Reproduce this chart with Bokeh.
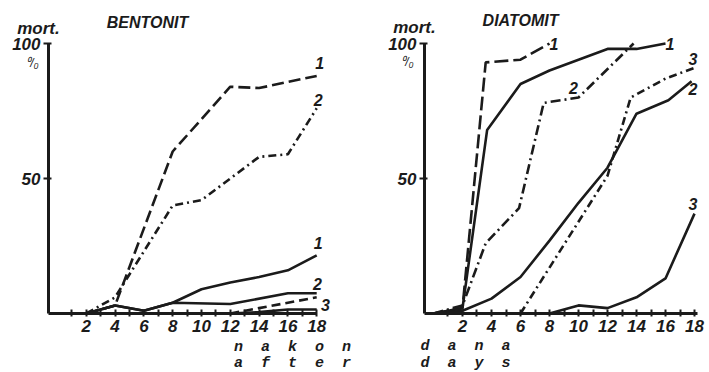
from bokeh.plotting import figure
from bokeh.layouts import row
from bokeh.models import Label, FixedTicker, Range1d
from bokeh.embed import file_html
from bokeh.resources import INLINE

INK = "#1b1b1b"
FONT = "Liberation Sans"
MONO = "Liberation Mono"

# ---------------- BENTONIT (left panel) ----------------
b_dash1_days = [2, 4, 8, 12, 14, 18]
b_dash1_mort = [0, 3, 60, 84, 83.5, 88]
b_dashdot2_days = [2, 4, 8, 10, 12, 14, 16, 18]
b_dashdot2_mort = [0, 6, 40, 42, 50, 58, 59, 76]
b_dash3_days = [12, 14, 16, 18]
b_dash3_mort = [0, 2, 4, 6]
b_solid1_days = [2, 4, 6, 8, 10, 12, 14, 16, 18]
b_solid1_mort = [0, 3, 1, 4, 9, 11.5, 13.5, 16, 21.5]
b_solid2_days = [2, 4, 6, 8, 12, 16, 18]
b_solid2_mort = [0, 3, 1, 4, 3.5, 7.5, 7.5]
b_solid3_days = [12, 14, 16, 18]
b_solid3_mort = [0, 0.5, 1.5, 1.5]

# ---------------- DIATOMIT (right panel) ----------------
d_dash1_days = [0, 2, 3.6, 6, 8]
d_dash1_mort = [0, 2, 93, 94, 100]
d_solid1_days = [0, 2, 3.7, 6, 8, 10, 12, 14, 16]
d_solid1_mort = [0, 2, 68, 85, 90, 94, 98, 98, 100]
d_dashdot2_days = [0, 2, 3.6, 5.9, 7.6, 10, 13.8]
d_dashdot2_mort = [0, 3, 26, 39, 78, 80, 100]
d_solid2_days = [0, 2, 4, 6, 8, 10, 12, 14, 16.2, 17.8]
d_solid2_mort = [0, 1, 5.5, 13.5, 27, 41, 54, 74, 79, 86]
d_dashdot3_days = [6, 8, 10, 12, 13.6, 16, 18]
d_dashdot3_mort = [0, 17, 34, 51, 80, 87, 91]
d_solid3_days = [8, 10, 12, 14, 16, 18]
d_solid3_mort = [0, 3, 2, 6, 13, 37]

major_days = [2, 4, 6, 8, 10, 12, 14, 16, 18]
minor_days = [1, 3, 5, 7, 9, 11, 13, 15, 17]
mort_ticks = [50, 100]

NB = "\u00a0\u00a0"
YR = (-21.85, 115.93)


def base_figure(width, xr, axis_x, axis_end):
    p = figure(width=width, height=372, x_range=Range1d(*xr),
               y_range=Range1d(*YR), output_backend="svg",
               toolbar_location=None, min_border=0,
               min_border_left=0, min_border_right=0,
               min_border_top=0, min_border_bottom=0)
    p.xgrid.visible = False
    p.ygrid.visible = False
    p.outline_line_color = None
    p.background_fill_color = "white"
    p.border_fill_color = "white"
    xa = p.xaxis[0]
    xa.fixed_location = 0
    xa.bounds = (axis_x, axis_end)
    xa.ticker = FixedTicker(ticks=major_days, minor_ticks=minor_days)
    ya = p.yaxis[0]
    ya.fixed_location = axis_x
    ya.bounds = (0, 100)
    ya.ticker = FixedTicker(ticks=mort_ticks, minor_ticks=[])
    for ax in (xa, ya):
        ax.axis_line_width = 3
        ax.axis_line_color = INK
        ax.major_tick_line_color = INK
        ax.major_tick_line_width = 2
        ax.minor_tick_line_color = INK
        ax.minor_tick_line_width = 2
        ax.major_label_text_font = FONT
        ax.major_label_text_font_style = "bold italic"
        ax.major_label_text_font_size = "17px"
        ax.major_label_text_color = INK
        ax.major_label_standoff = 3
    xa.major_tick_in = 4
    xa.major_tick_out = 3
    xa.minor_tick_in = 4
    xa.minor_tick_out = 3
    ya.major_tick_in = 3
    ya.major_tick_out = 5
    return p


def lbl(p, x, y, text, size="16px", align="center", font=FONT, style="bold italic"):
    p.add_layout(Label(x=x, y=y, text=text, text_font=font, text_font_style=style,
                       text_font_size=size, text_align=align, text_baseline="middle",
                       text_color=INK))


LW = 2.6

# ---------- left ----------
pb = base_figure(354, (-3.958, 20.625), -0.625, 18)
pb.line(b_dash1_days, b_dash1_mort, line_color=INK, line_width=LW, line_dash="12 5")
pb.line(b_dashdot2_days, b_dashdot2_mort, line_color=INK, line_width=LW, line_dash="8 4 2 4")
pb.line(b_dash3_days, b_dash3_mort, line_color=INK, line_width=LW, line_dash="9 5")
pb.line(b_solid1_days, b_solid1_mort, line_color=INK, line_width=LW)
pb.line(b_solid2_days, b_solid2_mort, line_color=INK, line_width=LW)
pb.line(b_solid3_days, b_solid3_mort, line_color=INK, line_width=LW)

lbl(pb, 6.25, 107.8, "BENTONIT", size="16px")
lbl(pb, -1.32, 105.6, "mort.", size="17px")
lbl(pb, -1.74, 92.6, "\u2070/\u2080", size="12px", style="italic")
lbl(pb, 18.2, 92.6, "1")
lbl(pb, 18.1, 79, "2")
lbl(pb, 18.1, 26, "1")
lbl(pb, 18.05, 11, "2")
lbl(pb, 18.6, 3, "3")
lbl(pb, 12.26, -12.6, "n" + NB + "a" + NB + "k" + NB + "o" + NB + "n", size="15px", align="left", font=MONO)
lbl(pb, 12.26, -18.6, "a" + NB + "f" + NB + "t" + NB + "e" + NB + "r", size="15px", align="left", font=MONO)

# ---------- right ----------
pd = base_figure(355, (-5.448, 19.034), -0.62, 18.2)
pd.line(d_dash1_days, d_dash1_mort, line_color=INK, line_width=LW, line_dash="14 5")
pd.line(d_solid1_days, d_solid1_mort, line_color=INK, line_width=LW)
pd.line(d_dashdot2_days, d_dashdot2_mort, line_color=INK, line_width=LW, line_dash="10 4 2 4")
pd.line(d_solid2_days, d_solid2_mort, line_color=INK, line_width=LW)
pd.line(d_dashdot3_days, d_dashdot3_mort, line_color=INK, line_width=LW, line_dash="8 4 2 4")
pd.line(d_solid3_days, d_solid3_mort, line_color=INK, line_width=LW)

lbl(pd, 6.0, 108.5, "DIATOMIT", size="16px")
lbl(pd, -1.31, 105.9, "mort.", size="17px")
lbl(pd, -1.8, 93, "\u2070/\u2080", size="12px", style="italic")
lbl(pd, 8.3, 100, "1")
lbl(pd, 16.3, 100, "1")
lbl(pd, 9.65, 83.7, "2")
lbl(pd, 17.9, 94.4, "3")
lbl(pd, 17.9, 83.3, "2")
lbl(pd, 17.9, 40.7, "3")
lbl(pd, -0.9, -12.2, "d" + NB + "a" + NB + "n" + NB + "a", size="15px", align="left", font=MONO)
lbl(pd, -0.9, -18.4, "d" + NB + "a" + NB + "y" + NB + "s", size="15px", align="left", font=MONO)

layout = row(pb, pd)
open("out.html", "w").write(file_html(layout, INLINE))
